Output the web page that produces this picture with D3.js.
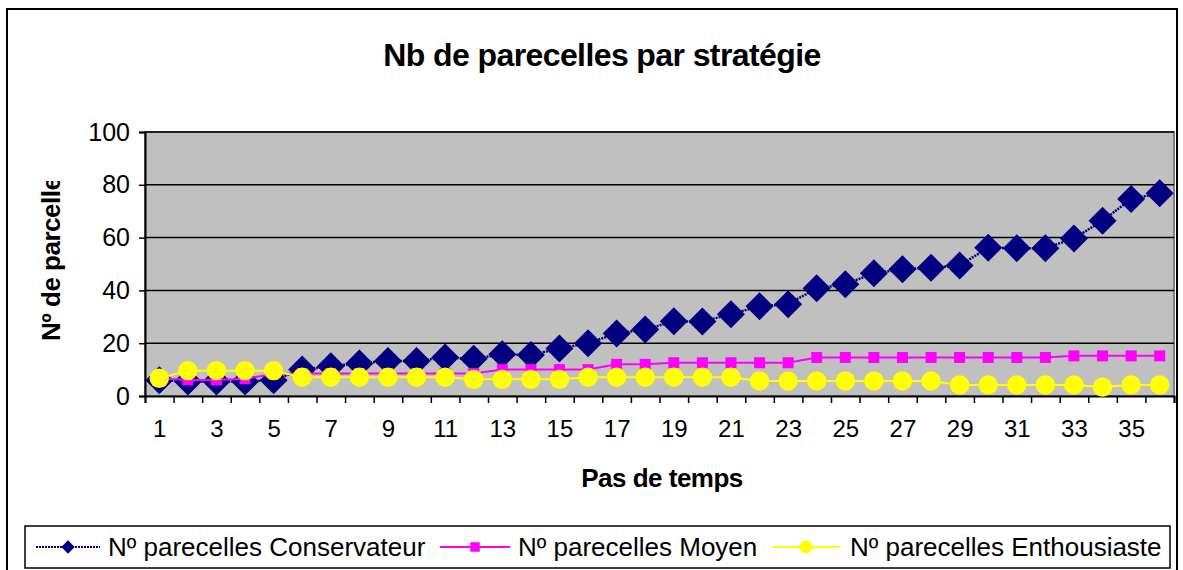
<!DOCTYPE html>
<html>
<head>
<meta charset="utf-8">
<script src="https://cdn.jsdelivr.net/npm/d3@7"></script>
<style>
  body { margin: 0; background: #fff; }
  text { font-family: 'Liberation Sans', Arial, sans-serif; }
</style>
</head>
<body>
<div id="chart"></div>
<script>
// Data
var steps = [1, 2, 3, 4, 5, 6, 7, 8, 9, 10, 11, 12, 13, 14, 15, 16, 17, 18,
  19, 20, 21, 22, 23, 24, 25, 26, 27, 28, 29, 30, 31, 32, 33, 34, 35, 36]
var conservateur = [6, 5.5, 5.5, 5.5, 6, 10, 11.3, 12.3, 13.3, 13.3, 14.6, 14.1,
  15.8, 15.5, 18, 20, 23.7, 25.2, 28.3, 28.2, 31, 34, 34.8, 40.8, 42.3, 46.5,
  48, 48.6, 49.4, 56.2, 56, 56, 59.7, 66.4, 74.6, 76.8]
var moyen = [6.7, 6.1, 6.1, 6.5, 8.3, 8.5, 8.5, 8.5, 8.5, 8.5, 8.5, 8.5,
  10, 10, 10, 10, 12, 12, 12.6, 12.6, 12.6, 12.6, 12.6, 14.6, 14.6, 14.6,
  14.6, 14.6, 14.6, 14.6, 14.6, 14.6, 15.2, 15.2, 15.2, 15.2]
var enthousiaste = [6.7, 9.6, 9.6, 9.6, 9.6, 7.1, 7.1, 7.1, 7.1, 7.1, 7.1, 6.3,
  6.3, 6.3, 6.3, 7.1, 7.1, 7.1, 7.1, 7.1, 7.1, 5.7, 5.7, 5.7, 5.7, 5.7,
  5.7, 5.7, 4.2, 4.2, 4.2, 4.2, 4.2, 3.4, 4.2, 4.2]
var yTicks = [0, 20, 40, 60, 80, 100]
var xLabelTicks = [1, 3, 5, 7, 9, 11, 13, 15, 17, 19, 21, 23, 25, 27, 29, 31, 33, 35]
var seriesNames = ['Nº parecelles Conservateur', 'Nº parecelles Moyen', 'Nº parecelles Enthousiaste']

var width = 1183
var height = 570
var plot = { left: 145, right: 1174, top: 132, bottom: 396 }

var svg = d3.select('#chart')
  .append('svg')
  .attr('width', width)
  .attr('height', height)

// outer chart frame
svg.append('rect')
  .attr('x', 7).attr('y', 9)
  .attr('width', 1170).attr('height', 600)
  .attr('fill', '#fff')
  .attr('stroke', '#000')
  .attr('stroke-width', 2)

var xScale = d3.scaleLinear()
  .domain([0.5, 36.5])
  .range([plot.left, plot.right])
var yScale = d3.scaleLinear()
  .domain([0, 100])
  .range([plot.bottom, plot.top])

// plot background
svg.append('rect')
  .attr('x', plot.left).attr('y', plot.top)
  .attr('width', plot.right - plot.left)
  .attr('height', plot.bottom - plot.top)
  .attr('fill', '#c0c0c0')
  .attr('stroke', '#808080')
  .attr('stroke-width', 2)

// gridlines
svg.append('g')
  .selectAll('line')
  .data(yTicks.filter(d => d > 0))
  .enter()
  .append('line')
  .attr('x1', plot.left).attr('x2', plot.right)
  .attr('y1', d => yScale(d)).attr('y2', d => yScale(d))
  .attr('stroke', '#000')
  .attr('stroke-width', 1.5)

// y axis
var yAxis = d3.axisLeft(yScale).tickValues(yTicks).tickSize(6).tickPadding(9)
var yG = svg.append('g')
  .attr('transform', `translate(${plot.left}, 0)`)
  .call(yAxis)
yG.select('.domain').attr('stroke', '#000').attr('stroke-width', 2)
yG.selectAll('.tick line').attr('stroke', '#000').attr('stroke-width', 1.5)
yG.selectAll('.tick text')
  .attr('font-size', 25)
  .attr('font-family', "'Liberation Sans', Arial, sans-serif")
  .attr('fill', '#000')

// x axis: tick marks between categories, labels on odd steps
var tickBounds = steps.map(d => d - 0.5).concat([36.5])
var xAxis = d3.axisBottom(xScale).tickValues(tickBounds).tickSize(7).tickFormat('')
var xG = svg.append('g')
  .attr('transform', `translate(0, ${plot.bottom})`)
  .call(xAxis)
xG.select('.domain').attr('stroke', '#000').attr('stroke-width', 2)
xG.selectAll('.tick line').attr('stroke', '#000').attr('stroke-width', 1.5)

var xLabels = d3.axisBottom(xScale).tickValues(xLabelTicks).tickSize(0).tickPadding(24)
var xl = svg.append('g')
  .attr('transform', `translate(0, ${plot.bottom})`)
  .call(xLabels)
xl.select('.domain').remove()
xl.selectAll('.tick text')
  .attr('font-size', 24)
  .attr('font-family', "'Liberation Sans', Arial, sans-serif")
  .attr('fill', '#000')

// series
var line = d3.line()
  .x((d, i) => xScale(steps[i]))
  .y(d => yScale(d))

var diamond = d3.symbol().type(d3.symbolSquare).size(392)
var square = d3.symbol().type(d3.symbolSquare).size(121)

// Conservateur
svg.append('path')
  .datum(conservateur)
  .attr('d', line)
  .attr('fill', 'none')
  .attr('stroke', '#000080')
  .attr('stroke-width', 2.5)
  .attr('stroke-dasharray', '2,1')
svg.append('g')
  .selectAll('path')
  .data(conservateur)
  .enter()
  .append('path')
  .attr('d', diamond)
  .attr('transform', (d, i) => `translate(${xScale(steps[i])}, ${yScale(d)}) rotate(45)`)
  .attr('fill', '#000080')

// Moyen
svg.append('path')
  .datum(moyen)
  .attr('d', line)
  .attr('fill', 'none')
  .attr('stroke', '#ff00ff')
  .attr('stroke-width', 2)
svg.append('g')
  .selectAll('path')
  .data(moyen)
  .enter()
  .append('path')
  .attr('d', square)
  .attr('transform', (d, i) => `translate(${xScale(steps[i])}, ${yScale(d)})`)
  .attr('fill', '#ff00ff')

// Enthousiaste
svg.append('path')
  .datum(enthousiaste)
  .attr('d', line)
  .attr('fill', 'none')
  .attr('stroke', '#ffff00')
  .attr('stroke-width', 2)
svg.append('g')
  .selectAll('circle')
  .data(enthousiaste)
  .enter()
  .append('circle')
  .attr('cx', (d, i) => xScale(steps[i]))
  .attr('cy', d => yScale(d))
  .attr('r', 9.7)
  .attr('fill', '#ffff00')

// title
svg.append('text')
  .text('Nb de parecelles par stratégie')
  .attr('x', 602)
  .attr('y', 66)
  .attr('text-anchor', 'middle')
  .attr('font-size', 32)
  .attr('font-weight', 'bold')
  .attr('letter-spacing', -0.6)

// axis titles
svg.append('text')
  .text('Pas de temps')
  .attr('x', 662)
  .attr('y', 487)
  .attr('text-anchor', 'middle')
  .attr('font-size', 26)
  .attr('font-weight', 'bold')
  .attr('letter-spacing', -0.5)

svg.append('clipPath')
  .attr('id', 'ylab-clip')
  .append('rect')
  .attr('x', 20).attr('y', 181)
  .attr('width', 60).attr('height', 200)

svg.append('g')
  .attr('clip-path', 'url(#ylab-clip)')
  .append('text')
  .text('Nº de parcelles')
  .attr('transform', 'translate(60, 341) rotate(-90)')
  .attr('font-size', 26)
  .attr('font-weight', 'bold')
  .attr('letter-spacing', -0.5)

// legend
var legend = svg.append('g')
legend.append('rect')
  .attr('x', 25).attr('y', 526)
  .attr('width', 1145).attr('height', 42)
  .attr('fill', '#fff')
  .attr('stroke', '#000')
  .attr('stroke-width', 1.5)

var legendItems = [
  { x1: 36, x2: 100, tx: 108, color: '#000080', dash: '2,1', mark: 'diamond' },
  { x1: 440, x2: 510, tx: 518, color: '#ff00ff', dash: null, mark: 'square' },
  { x1: 772, x2: 840, tx: 850, color: '#ffff00', dash: null, mark: 'circle' }
]
var ly = 547
legendItems.forEach(function (it, i) {
  legend.append('line')
    .attr('x1', it.x1).attr('x2', it.x2)
    .attr('y1', ly).attr('y2', ly)
    .attr('stroke', it.color)
    .attr('stroke-width', 2)
    .attr('stroke-dasharray', it.dash)
  var cx = (it.x1 + it.x2) / 2
  if (it.mark === 'diamond') {
    legend.append('path')
      .attr('d', d3.symbol().type(d3.symbolSquare).size(90))
      .attr('transform', `translate(${cx}, ${ly}) rotate(45)`)
      .attr('fill', it.color)
  } else if (it.mark === 'square') {
    legend.append('path')
      .attr('d', d3.symbol().type(d3.symbolSquare).size(90))
      .attr('transform', `translate(${cx}, ${ly})`)
      .attr('fill', it.color)
  } else {
    legend.append('circle')
      .attr('cx', cx).attr('cy', ly).attr('r', 6.5)
      .attr('fill', it.color)
  }
  legend.append('text')
    .text(seriesNames[i])
    .attr('x', it.tx)
    .attr('y', ly + 9)
    .attr('font-size', 26)
})
</script>
</body>
</html>
